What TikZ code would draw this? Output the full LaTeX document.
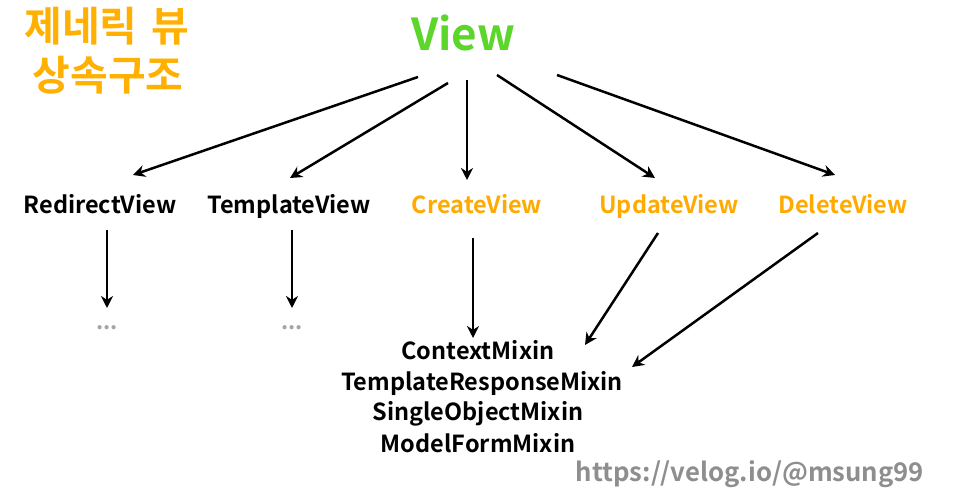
\documentclass[tikz,border=0pt]{standalone}
\usepackage{fontspec}
\setmainfont{Noto Sans CJK KR Bold}
\newfontfamily\krb{Noto Sans CJK KR Bold}
\usetikzlibrary{arrows.meta}
\definecolor{torange}{HTML}{FFB000}
\definecolor{lorange}{HTML}{FFAA00}
\definecolor{vgreen}{HTML}{5DD62C}
\definecolor{ugray}{HTML}{8E8E8E}
\begin{document}
\begin{tikzpicture}[x=1pt,y=-1pt,
  lbl/.style={inner sep=0pt, text height=0.72em, text depth=0.22em, font=\krb\fontsize{23.5}{23.5}\selectfont},
  olbl/.style={lbl, text=lorange},
  arr/.style={line width=2.5pt, -{Stealth[length=12pt,width=12pt]}},
  dots/.style={inner sep=0pt, text=ugray!80, font=\krb\fontsize{22}{22}\selectfont}]
\useasboundingbox[fill=white] (0,0) rectangle (957,502);
\node[inner sep=0pt, text=torange, font=\krb\fontsize{41}{41}\selectfont] (t1) at (107,26) {제네릭\hspace{0.35em}뷰};
\node[inner sep=0pt, text=torange, font=\krb\fontsize{41}{41}\selectfont] (t2) at (108,75) {상속구조};
\node[inner sep=0pt, text=vgreen, font=\krb\fontsize{44}{44}\selectfont] (view) at (463,33) {View};
\node[lbl] (redirect) at (100,211) {RedirectView};
\node[lbl] (template) at (289,211) {TemplateView};
\node[olbl] (create) at (477,211) {CreateView};
\node[olbl] (update) at (669,211) {UpdateView};
\node[olbl] (delete) at (843,211) {DeleteView};
\node[dots] (d1) at (107,328) {...};
\node[dots] (d2) at (292,328) {...};
\node[lbl] (ctx) at (478,357) {ContextMixin};
\node[lbl] (trm) at (482,388) {TemplateResponseMixin};
\node[lbl] (som) at (478,418) {SingleObjectMixin};
\node[lbl] (mfm) at (478,450) {ModelFormMixin};
\node[inner sep=0pt, text=ugray, font=\krb\fontsize{25.7}{25.7}\selectfont] (url) at (750,474) {https://velog.io/@msung99};
\draw[arr] ([shift={(-45,44)}]view.center) -- ([shift={(33,-36)}]redirect.center);
\draw[arr] ([shift={(-15,50)}]view.center) -- ([shift={(1,-33)}]template.center);
\draw[arr] ([shift={(4,47)}]view.center) -- ([shift={(-10,-31)}]create.center);
\draw[arr] ([shift={(34,42)}]view.center) -- ([shift={(-14,-33)}]update.center);
\draw[arr] ([shift={(94,42)}]view.center) -- ([shift={(-8,-36)}]delete.center);
\draw[arr] ([shift={(7,19)}]redirect.center) -- ([shift={(0,-20)}]d1.center);
\draw[arr] ([shift={(3,19)}]template.center) -- ([shift={(0,-20)}]d2.center);
\draw[arr] ([shift={(-4,27)}]create.center) -- ([shift={(-5,-19)}]ctx.center);
\draw[arr] ([shift={(-11,22)}]update.center) -- ([shift={(107,-12)}]ctx.center);
\draw[arr] ([shift={(-25,22)}]delete.center) -- ([shift={(150,-21)}]trm.center);
\end{tikzpicture}
\end{document}
